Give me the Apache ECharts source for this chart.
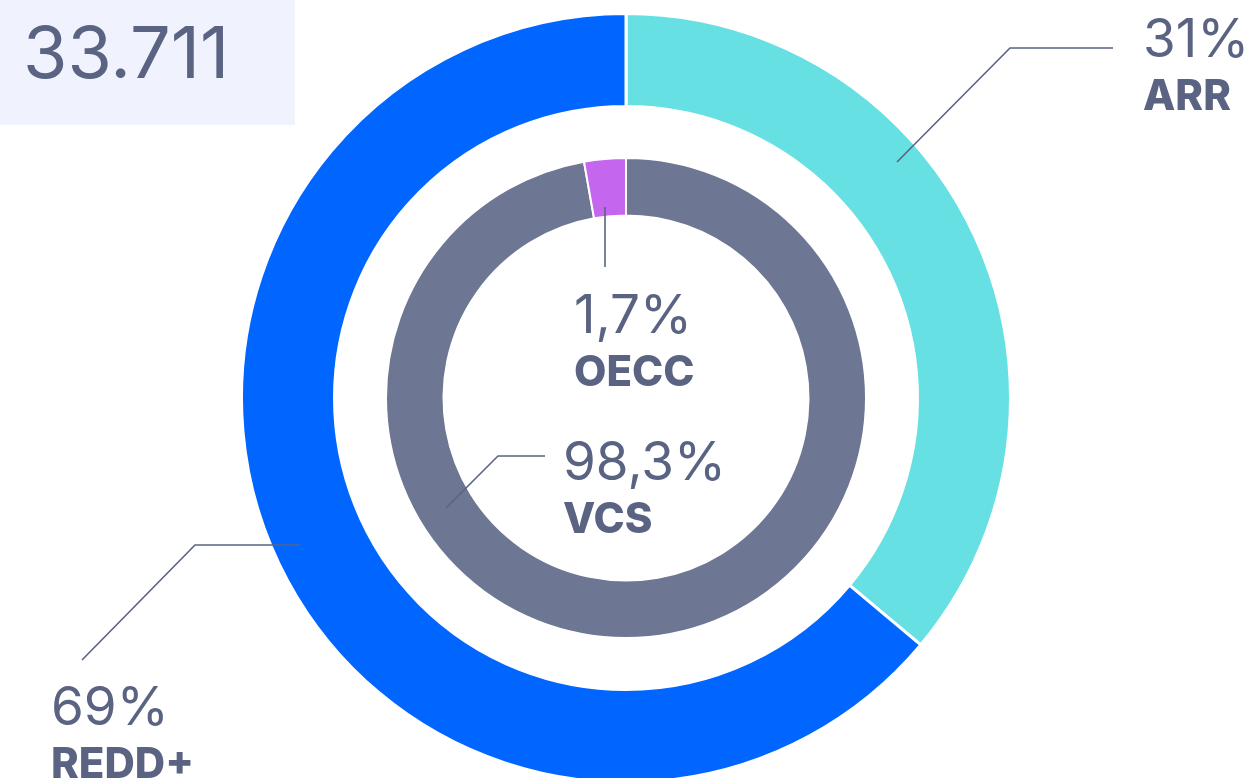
<!DOCTYPE html>
<html>
<head>
<meta charset="utf-8">
<script src="https://cdn.jsdelivr.net/npm/echarts@6/dist/echarts.min.js"></script>
<style>
html,body{margin:0;padding:0;background:#fff;}
#chart{width:1244px;height:778px;}
</style>
</head>
<body>
<div id="chart"></div>
<script>
// ---- data ----
const totalValue = '33.711';
const outerCategories = ['ARR', 'REDD+'];
const outerShares = [36.1, 63.9];          // arc shares as drawn
const outerLabels = ['31%', '69%'];
const innerCategories = ['VCS', 'OECC'];
const innerShares = [97.2, 2.8];           // arc shares as drawn
const innerLabels = ['98,3%', '1,7%'];
const outerColors = ['#67E0E3', '#0066FF'];
const innerColors = ['#6D7692', '#C466EE'];

// ---- layout / style ----
const FONT = 'Inter';
const TXT = '#5A6382';
const center = [626, 398];
const outerRadius = [291.5, 384.5];
const innerRadius = [182.5, 240];

const labelPos = {
  'ARR':   {x: 1143, y: 14,  line: [[897,162],[1010,48],[1113,48]]},
  'REDD+': {x: 51,   y: 682, line: [[300,545],[195,545],[82,660]]},
  'OECC':  {x: 574,  y: 290, line: [[605,207],[605,267]]},
  'VCS':   {x: 563,  y: 437, line: [[446,508],[498,456],[545,456]]}
};

const rich = {
  v: {fontFamily: FONT, fontSize: 53, fontWeight: 400, color: TXT, lineHeight: 54},
  n: {fontFamily: FONT, fontSize: 42, fontWeight: 800, color: TXT, lineHeight: 58}
};

function makeData(cats, vals, cols, transparent) {
  return cats.map((c, i) => ({name: c, value: vals[i],
    itemStyle: {color: transparent ? 'rgba(0,0,0,0)' : cols[i]}}));
}
function seriesLayout(names) {
  return function (params) {
    const p = labelPos[names[params.dataIndex]];
    return {x: p.x, y: p.y, align: 'left', verticalAlign: 'top', labelLinePoints: p.line};
  };
}
function ring(radius, cats, vals, cols, border) {
  return {
    type: 'pie', center: center, radius: radius, startAngle: 90, clockwise: true,
    silent: true, emphasis: {disabled: true}, z: 2,
    itemStyle: {borderColor: '#fff', borderWidth: border},
    label: {show: false}, labelLine: {show: false},
    data: makeData(cats, vals, cols, false)
  };
}
function labelRing(radius, cats, vals, labels) {
  return {
    type: 'pie', center: center, radius: radius, startAngle: 90, clockwise: true,
    silent: true, emphasis: {disabled: true}, z: 5, avoidLabelOverlap: false,
    itemStyle: {borderWidth: 0},
    data: makeData(cats, vals, null, true),
    label: {
      show: true,
      formatter: p => `{v|${labels[p.dataIndex]}}\n{n|${p.name}}`,
      rich: rich
    },
    labelLine: {show: true, lineStyle: {color: TXT, width: 1.6, opacity: 1}},
    labelLayout: seriesLayout(cats)
  };
}

const chart = echarts.init(document.getElementById('chart'), null, {renderer: 'canvas'});
const option = {
  animation: false,
  backgroundColor: '#fff',
  graphic: [
    {type: 'rect', left: 0, top: 0, shape: {width: 295, height: 125}, style: {fill: '#F0F3FE'}, z: 0},
    {type: 'text', left: 23, top: 20, style: {text: totalValue, fontFamily: FONT, fontSize: 72, fontWeight: 400, fill: TXT}, z: 1}
  ],
  series: [
    ring(outerRadius, outerCategories, outerShares, outerColors, 3),
    ring(innerRadius, innerCategories, innerShares, innerColors, 2),
    labelRing(outerRadius, outerCategories, outerShares, outerLabels),
    labelRing(innerRadius, innerCategories, innerShares, innerLabels)
  ]
};
chart.setOption(option);
</script>
</body>
</html>
